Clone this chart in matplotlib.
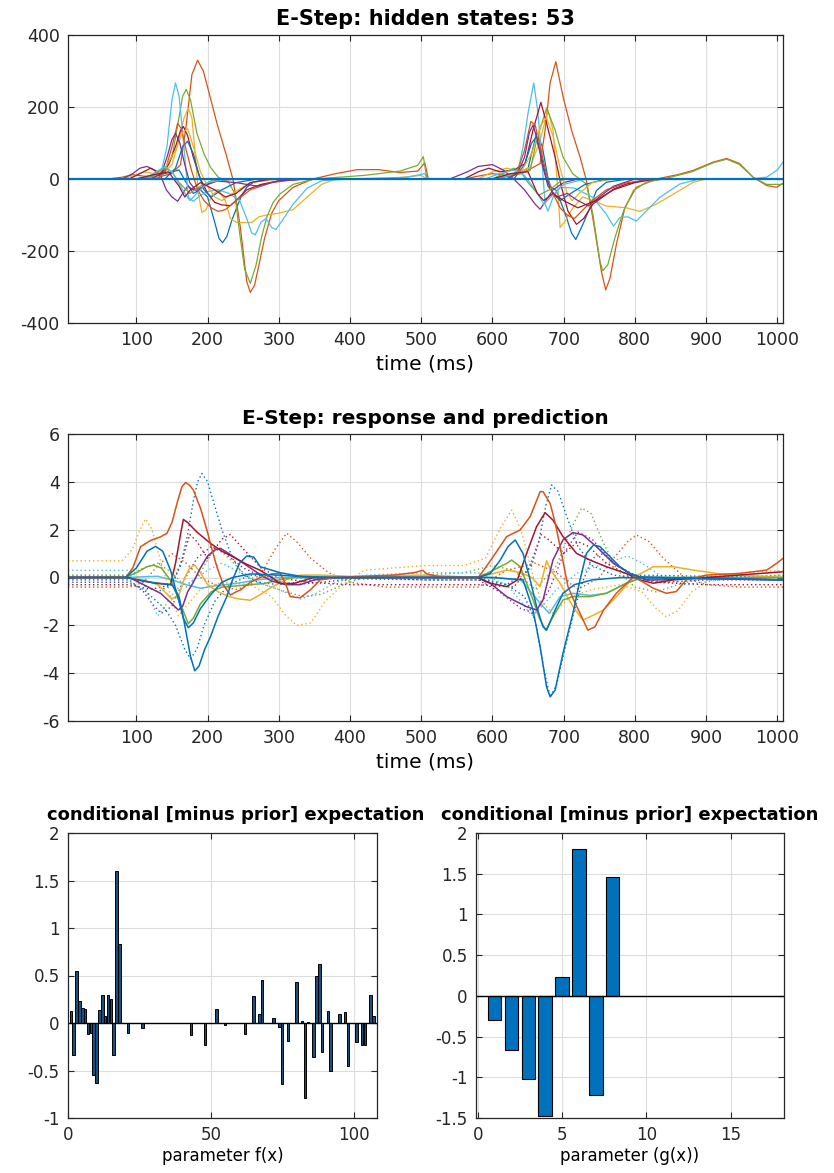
import matplotlib
matplotlib.use("Agg")
import matplotlib.pyplot as plt
from matplotlib.ticker import FuncFormatter

plt.rcParams['font.family'] = ['DejaVu Sans']
plt.rcParams['axes.unicode_minus'] = False

C_BLUE = '#0072BD'; C_ORANGE = '#D95319'; C_YELLOW = '#EDB120'; C_PURPLE = '#7E2F8E'
C_GREEN = '#77AC30'; C_CYAN = '#4DBEEE'; C_RED = '#A2142F'

# ---------------- hidden states (time ms, value) ----------------
hs_orange_a = [(4,0),(60,0),(80,5),(95,12),(110,8),(130,5),(150,15),(162,40),(170,150),(178,290),(186,330),(194,300),(202,240),(213,156),(227,61),(236,-4),(246,-135),(255,-285),(260,-315),(266,-295),(272,-240),(280,-165),(290,-95),(300,-60),(320,-23),(348,0),(380,15),(410,26),(440,26),(470,18),(495,22),(505,45),(510,0),
               (560,0),(580,8),(600,15),(620,10),(640,15),(655,30),(667,43),(674,136),(681,267),(689,326),(699,230),(711,136),(723,61),(732,-4),(744,-145),(753,-257),(759,-308),(765,-276),(774,-182),(786,-79),(802,-23),(830,0),(860,12),(882,24),(910,47),(929,57),(947,43),(966,5),(985,-18),(999,-23),(1008,-12)]
hs_green_a = [(4,0),(100,0),(120,8),(140,20),(150,60),(158,150),(165,230),(170,249),(176,220),(185,127),(195,70),(204,33),(215,5),(230,-10),(238,-40),(245,-150),(252,-250),(260,-290),(268,-240),(276,-160),(283,-107),(292,-65),(302,-41),(320,-15),(350,0),(420,10),(470,22),(495,38),(503,62),(508,0),
              (600,0),(620,10),(640,15),(653,24),(662,108),(676,197),(688,136),(699,61),(713,14),(732,-14),(741,-98),(751,-229),(755,-255),(762,-238),(772,-163),(784,-89),(798,-32),(816,-9),(840,0),(880,20),(910,45),(929,55),(947,40),(966,5),(985,-15),(1008,-15)]
hs_cyan_a = [(4,0),(110,0),(125,5),(135,20),(143,90),(150,220),(155,267),(160,230),(166,108),(173,-51),(180,-62),(190,-45),(200,-35),(215,-30),(230,-40),(245,-60),(255,-110),(262,-150),(267,-155),(275,-120),(282,-110),(290,-135),(296,-140),(305,-115),(320,-70),(340,-25),(360,-5),(400,0),(480,5),(505,15),(508,0),
             (600,0),(625,10),(636,24),(643,89),(650,183),(658,267),(664,183),(669,61),(674,-70),(678,-89),(685,-51),(695,-23),(715,-25),(741,-51),(760,-98),(770,-131),(779,-107),(790,-105),(802,-117),(816,-89),(835,-51),(863,-14),(891,0),(960,0),(985,5),(1000,25),(1008,47)]
hs_yellow_a = [(4,0),(80,0),(95,8),(110,20),(125,15),(140,20),(150,40),(160,110),(167,170),(173,197),(178,170),(183,60),(187,-40),(192,-93),(198,-85),(206,-45),(215,-30),(225,-60),(232,-110),(240,-120),(250,-121),(262,-121),(272,-105),(283,-100),(300,-95),(320,-85),(340,-50),(360,-15),(380,0),(450,0),(500,10),(508,0),
               (580,0),(600,20),(620,30),(640,20),(653,33),(667,108),(678,192),(685,136),(692,-32),(695,-135),(702,-117),(713,-80),(727,-50),(741,-60),(760,-75),(788,-80),(807,-90),(830,-70),(854,-42),(882,-9),(900,0),(1008,0)]
hs_blue_a = [(4,0),(100,0),(130,10),(150,20),(160,25),(170,-10),(180,-40),(190,-30),(200,-50),(210,-120),(216,-165),(221,-177),(227,-160),(234,-115),(241,-79),(248,-45),(255,-23),(265,-8),(290,0),(508,0),
             (600,0),(630,10),(650,30),(662,127),(670,90),(680,-20),(690,-32),(704,-107),(711,-150),(717,-168),(727,-126),(737,-79),(746,-32),(760,-9),(790,0),(1008,0)]
hs_red_a = [(4,0),(90,0),(110,20),(120,30),(135,15),(145,40),(155,90),(162,135),(166,146),(172,120),(180,60),(190,0),(200,-40),(210,-65),(220,-72),(232,-74),(240,-60),(255,-30),(275,-15),(300,-5),(340,0),(508,0),
            (560,0),(580,20),(595,30),(610,20),(630,25),(646,43),(657,136),(668,213),(676,155),(688,61),(697,-23),(706,-89),(718,-126),(728,-110),(741,-70),(770,-28),(788,-14),(820,0),(1008,0)]
hs_purple_a = [(4,0),(80,0),(95,15),(105,30),(115,35),(125,25),(135,5),(142,-30),(150,-50),(158,-62),(165,-40),(172,-20),(180,-30),(190,-25),(200,-15),(215,-5),(240,0),(508,0),
               (540,0),(565,20),(580,35),(600,40),(615,25),(630,0),(645,-30),(660,-70),(667,-84),(675,-60),(685,-30),(700,-10),(720,0),(1008,0)]
hs_purple_b = [(4,0),(120,0),(135,15),(143,60),(150,110),(155,127),(161,100),(168,40),(175,-10),(185,-35),(195,-20),(210,-5),(240,-10),(270,-20),(300,-5),(340,0),(508,0),
               (620,0),(635,15),(645,60),(652,130),(657,150),(663,110),(670,40),(678,-20),(690,-50),(705,-40),(720,-60),(735,-75),(750,-50),(770,-20),(800,0),(1008,0)]
hs_orange_b = [(4,0),(130,0),(140,20),(150,90),(158,155),(163,140),(170,80),(178,20),(186,-30),(195,-60),(205,-80),(215,-90),(225,-85),(240,-60),(260,-30),(290,-10),(330,0),(508,0),
               (620,0),(635,20),(645,80),(654,160),(660,150),(667,90),(675,20),(685,-40),(695,-80),(705,-100),(715,-110),(725,-90),(740,-60),(760,-30),(790,-10),(830,0),(1008,0)]
hs_blue_b = [(4,0),(140,0),(155,30),(165,90),(172,105),(180,70),(188,10),(195,-30),(205,-50),(220,-30),(240,-10),(270,0),(508,0),
             (630,0),(645,40),(655,100),(661,115),(668,70),(676,0),(685,-40),(695,-60),(710,-40),(730,-15),(760,0),(1008,0)]
hs_green_b = [(4,0),(110,0),(125,15),(140,30),(150,20),(160,-10),(175,-40),(190,-20),(210,0),(508,0),
              (600,0),(615,15),(630,30),(640,20),(650,-10),(665,-45),(680,-30),(700,0),(1008,0)]
hs_cyan_b = [(4,0),(100,0),(120,10),(140,35),(150,20),(165,-30),(175,-60),(185,-40),(200,-10),(230,0),(508,0),
             (590,0),(610,15),(630,25),(645,10),(660,-30),(672,-70),(682,-50),(700,-15),(730,0),(1008,0)]
hs_yellow_b = [(4,0),(120,0),(140,30),(155,80),(165,130),(172,140),(180,90),(190,20),(200,-20),(210,-50),(220,-60),(235,-40),(260,-10),(300,0),(508,0),
               (620,0),(640,20),(655,70),(668,150),(676,170),(685,120),(695,30),(705,-40),(712,-60),(722,-40),(740,-10),(770,0),(1008,0)]
hs_red_b = [(4,0),(100,0),(120,10),(145,20),(160,-20),(168,-50),(176,-30),(190,-10),(210,-30),(225,-50),(240,-40),(260,-10),(290,0),(508,0),
            (600,0),(625,15),(650,20),(663,-40),(672,-60),(685,-40),(700,-60),(720,-80),(745,-60),(770,-30),(800,-10),(830,0),(1008,0)]
hs_flat = [(4,0),(1008,0)]

# ---------------- response (solid) ----------------
resp_orange = [(4,0),(85,0),(95,0.4),(106,1.29),(120,1.55),(134,1.7),(143,1.85),(150,2.3),(158,3.2),(164,3.8),(169,3.97),(175,3.85),(180,3.66),(190,2.9),(199,1.99),(206,1.2),(213,0.45),(222,-0.3),(232,-0.73),(240,-0.6),(246,-0.52),(260,-0.2),(274,0),(290,0.15),(302,0.18),(310,-0.3),(316,-0.8),(330,-0.85),(345,-0.5),(358,-0.1),(380,0),(420,0.05),(460,0.1),(490,0.2),(502,0.3),(508,0.15),
               (530,0),(580,0),(590,0.4),(601,0.87),(620,1.71),(639,1.99),(653,2.55),(667,3.59),(671,3.59),(681,3.1),(688,2.3),(695,1.29),(706,-0.38),(715,-1.0),(723,-1.5),(734,-2.2),(744,-2.06),(756,-1.36),(774,-0.66),(798,0.03),(812,-0.2),(826,-0.45),(844,-0.66),(858,-0.59),(872,-0.1),(900,0.1),(947,0.17),(985,0.31),(999,0.59),(1008,0.8)]
resp_red = [(4,0),(85,0),(110,-0.15),(130,-0.25),(148,-0.3),(155,0.6),(162,1.8),(166,2.43),(172,2.3),(185,1.9),(204,1.43),(220,1.1),(236,0.86),(255,0.55),(274,0.3),(290,0),(302,-0.25),(321,-0.25),(349,0),(508,0),
            (578,0),(597,-0.24),(620,-0.38),(635,-0.1),(648,1.01),(662,2.13),(674,2.71),(685,2.4),(699,1.71),(718,1.01),(737,0.73),(760,0.45),(788,0.17),(807,-0.1),(826,-0.24),(854,-0.1),(900,0),(1008,0.24)]
resp_purple = [(4,0),(90,0),(110,-0.3),(134,-0.66),(150,-1.1),(159,-1.36),(165,-1.2),(172,-0.6),(180,-0.2),(190,0.4),(200,0.9),(210,1.15),(218,1.22),(230,1.0),(245,0.7),(260,0.4),(275,0.1),(290,-0.15),(310,-0.3),(330,-0.3),(350,-0.1),(380,0),(508,0),
               (580,0),(597,-0.24),(620,-0.8),(648,-1.22),(662,-1.36),(671,-0.94),(685,0.73),(699,1.57),(713,1.88),(727,1.78),(746,1.29),(770,0.59),(793,0.17),(816,-0.1),(840,-0.1),(880,0),(1008,-0.1)]
resp_green = [(4,0),(85,0),(100,0.2),(115,0.45),(124,0.52),(135,0.4),(150,-0.2),(163,-1.2),(173,-1.93),(180,-1.7),(190,-1.1),(205,-0.6),(220,-0.4),(240,-0.35),(260,-0.3),(280,-0.25),(300,-0.1),(320,0),(508,0),
              (578,0),(592,0.17),(620,0.59),(627,0.73),(639,0.45),(657,-0.94),(667,-1.78),(675,-2.2),(685,-1.64),(699,-0.94),(713,-0.8),(737,-0.8),(760,-0.66),(788,-0.24),(810,0),(1008,0)]
resp_yellow = [(4,0),(85,0),(110,-0.1),(130,-0.3),(150,-0.9),(160,-0.7),(168,0.0),(175,0.4),(182,0.52),(190,0.2),(200,-0.3),(215,-0.6),(230,-0.8),(245,-0.9),(260,-0.95),(275,-0.7),(290,-0.4),(310,-0.1),(330,0.1),(360,0.1),(400,0.05),(508,0.1),
               (580,0),(620,0.31),(640,0.2),(655,0),(667,-0.38),(672,0.2),(676,0.7),(682,0.3),(695,-0.24),(713,-1.22),(727,-1.78),(742,-1.57),(756,-1.36),(774,-0.8),(798,0),(826,0.45),(854,0.45),(882,0.31),(920,0.15),(1008,0)]
resp_cyan = [(4,0),(85,0),(130,0.05),(150,-0.1),(170,-0.3),(190,-0.45),(210,-0.35),(240,-0.25),(270,-0.1),(300,0),(508,0),
             (600,0),(640,-0.1),(667,-1.08),(680,-1.5),(695,-0.8),(713,-0.66),(737,-0.75),(760,-0.66),(788,-0.24),(810,0),(1008,0)]
resp_blue_a = [(4,0),(85,0),(100,0.4),(115,1.1),(127,1.3),(137,1.1),(148,0.3),(158,-0.8),(166,-1.7),(173,-2.1),(180,-1.9),(190,-1.3),(205,-0.7),(220,-0.2),(235,0),(260,0.15),(300,0.1),(350,0),(508,0),
               (580,0),(597,0.17),(611,0.73),(622,1.3),(632,1.57),(643,1.0),(653,-0.1),(662,-1.22),(671,-2.06),(676,-2.2),(688,-1.36),(699,-0.66),(715,-0.3),(740,-0.1),(780,0),(1008,-0.1)]
resp_blue_b = [(4,0),(85,0),(120,-0.2),(150,-0.3),(160,-0.8),(168,-2.0),(176,-3.3),(182,-3.9),(188,-3.7),(196,-3.0),(204,-2.48),(215,-1.6),(227,-0.8),(235,-0.1),(245,0.6),(255,0.9),(265,0.85),(274,0.45),(302,0.2),(330,0.05),(380,0),(508,0),
               (600,0),(643,-0.1),(657,-1.36),(667,-2.9),(676,-4.57),(681,-4.99),(688,-4.71),(699,-3.17),(713,-1.5),(723,-0.1),(732,1.01),(742,1.36),(751,1.29),(765,0.87),(779,0.45),(793,0.17),(807,0.03),(900,-0.05),(1008,-0.1)]

# ---------------- prediction (dotted) ----------------
pred_blue_a = [(4,0.05),(90,0.05),(110,-0.3),(130,-0.6),(150,-0.3),(162,0.5),(172,1.8),(180,3.2),(186,4.0),(192,4.35),(200,4.0),(210,3.0),(220,2.0),(235,0.8),(250,0.1),(270,-0.2),(300,-0.3),(350,-0.1),(400,0.0),(508,0.0),
               (580,0),(620,-0.3),(650,0.3),(665,1.5),(675,3.0),(683,3.87),(692,3.6),(705,2.5),(720,1.3),(740,0.5),(770,0.1),(800,0),(1008,0)]
pred_blue_b = [(4,-0.2),(90,-0.2),(110,-0.5),(125,-0.9),(140,-1.3),(155,-2.0),(168,-3.0),(176,-3.4),(185,-3.0),(195,-2.0),(210,-1.0),(230,-0.3),(260,0.1),(300,0.0),(508,-0.1),
               (580,-0.1),(620,-0.3),(645,-0.8),(660,-1.8),(672,-3.8),(681,-5.0),(690,-4.5),(700,-3.2),(713,-1.6),(725,-0.3),(740,0.8),(755,1.0),(775,0.5),(800,0.1),(1008,0)]
pred_yellow = [(4,0.7),(80,0.7),(95,1.2),(105,2.0),(113,2.45),(122,2.0),(133,0.8),(141,0),(150,-1.0),(159,-1.6),(170,-1.2),(190,-0.5),(220,-0.2),(260,-0.3),(290,-0.8),(310,-1.6),(325,-2.0),(345,-1.9),(365,-1.0),(390,-0.3),(420,0.3),(460,0.4),(508,0.5),
               (560,0.5),(590,0.8),(610,2.0),(627,2.82),(640,2.0),(655,0.3),(668,-1.0),(685,-1.5),(710,-0.8),(740,-0.5),(780,-0.3),(810,-0.6),(830,-1.3),(844,-1.64),(860,-1.4),(880,-0.6),(910,0),(950,0.2),(1008,0.3)]
pred_orange = [(4,-0.4),(90,-0.4),(110,-0.2),(130,0.5),(150,1.0),(170,0.6),(190,0.0),(210,-0.3),(240,-0.5),(260,-0.3),(280,0.4),(295,1.2),(311,1.85),(325,1.5),(345,0.8),(370,0.2),(400,-0.2),(450,-0.4),(508,-0.4),
               (580,-0.4),(620,0.3),(660,0.6),(690,0.2),(720,-0.5),(750,0.0),(770,0.8),(790,1.5),(802,1.78),(820,1.5),(840,0.8),(870,0.0),(900,-0.3),(950,-0.4),(1008,-0.4)]
pred_green = [(4,0.1),(90,0.1),(110,0.4),(130,0.6),(150,0.2),(170,-0.4),(190,0.2),(205,1.0),(215,1.2),(230,0.8),(250,0.2),(280,-0.3),(310,-0.6),(335,-0.8),(360,-0.7),(390,-0.3),(420,0.0),(508,0.1),
              (560,0.2),(600,0.5),(630,0.3),(660,-0.5),(690,0.5),(710,2.0),(725,2.9),(738,2.7),(755,1.5),(775,0.3),(800,-0.4),(830,-0.6),(860,-0.3),(900,0),(1008,0.1)]
pred_purple = [(4,-0.1),(90,-0.1),(110,-0.6),(125,-1.2),(135,-1.5),(150,-1.2),(165,-0.2),(185,0.8),(205,1.3),(225,1.0),(250,0.4),(280,0.0),(320,-0.3),(360,-0.2),(420,0.0),(508,-0.1),
               (580,-0.1),(610,-0.6),(640,-1.3),(660,-1.5),(680,-0.5),(700,1.0),(720,1.9),(740,1.6),(770,0.6),(800,0.0),(840,-0.2),(900,-0.1),(1008,-0.1)]
pred_red = [(4,-0.3),(90,-0.3),(120,-0.5),(150,-0.3),(165,0.8),(175,1.8),(185,1.5),(200,0.8),(220,1.6),(232,1.8),(250,1.2),(275,0.4),(300,0.0),(340,-0.2),(400,-0.3),(508,-0.3),
            (580,-0.3),(630,-0.4),(655,0.5),(668,1.8),(678,1.6),(700,1.0),(720,1.5),(735,1.3),(760,0.6),(790,0.1),(830,-0.2),(900,-0.3),(1008,-0.3)]
pred_cyan = [(4,0.3),(90,0.3),(110,-0.2),(120,-1.0),(130,-1.6),(140,-1.2),(155,-0.5),(175,-0.2),(200,0.3),(220,0.6),(240,0.3),(270,-0.2),(300,-0.5),(330,-0.9),(350,-0.7),(380,-0.2),(420,0.1),(508,0.2),
             (580,0.2),(620,-0.3),(640,-1.0),(655,-1.6),(670,-1.2),(690,-0.5),(720,0.2),(760,0.6),(790,0.9),(810,0.6),(840,0.0),(870,-0.3),(920,-0.1),(1008,0.1)]

# ---------------- parameter estimates ----------------
param_f = [0.13, -0.34, 0.55, 0.23, 0.16, 0.15, -0.12, -0.10, -0.55, -0.63, 0.14, 0.30,
           0.07, 0.30, 0.25, -0.34, 1.60, 0.83, 0, 0, -0.11, 0, 0, 0,
           0, -0.05, 0, 0, 0, 0, 0, 0, 0, 0, 0, 0,
           0, 0, 0, 0, 0, 0, -0.13, 0, 0, 0, 0, -0.23,
           0, 0, 0, 0.15, 0, 0, -0.02, 0, 0, 0, 0, 0,
           0, -0.12, 0, 0, 0.28, 0, 0.09, 0.45, 0, 0, 0, 0.05,
           0, -0.04, -0.64, 0, -0.19, 0, 0, 0.43, 0, 0.02, -0.79, 0.01,
           0, -0.36, 0.50, 0.62, -0.30, 0, 0.13, -0.51, 0, 0, 0.10, 0,
           0.12, -0.45, 0, 0, -0.20, 0, -0.23, -0.23, 0, 0.29, 0.07, 0]
param_g = [-0.30, -0.66, -1.02, -1.47, 0.23, 1.80, -1.22, 1.46]

top_title = 'E-Step: hidden states: 53'
mid_title = 'E-Step: response and prediction'
bar_title = 'conditional [minus prior] expectation'

hidden_series = [(C_BLUE, hs_blue_a), (C_ORANGE, hs_orange_a), (C_YELLOW, hs_yellow_a), (C_PURPLE, hs_purple_a),
                 (C_GREEN, hs_green_a), (C_CYAN, hs_cyan_a), (C_RED, hs_red_a), (C_BLUE, hs_blue_b),
                 (C_ORANGE, hs_orange_b), (C_YELLOW, hs_yellow_b), (C_PURPLE, hs_purple_b), (C_GREEN, hs_green_b),
                 (C_CYAN, hs_cyan_b), (C_RED, hs_red_b)]
pred_series = [(C_ORANGE, pred_orange), (C_YELLOW, pred_yellow), (C_PURPLE, pred_purple), (C_GREEN, pred_green),
               (C_CYAN, pred_cyan), (C_RED, pred_red), (C_BLUE, pred_blue_a), (C_BLUE, pred_blue_b)]
resp_series = [(C_CYAN, resp_cyan), (C_YELLOW, resp_yellow), (C_GREEN, resp_green), (C_PURPLE, resp_purple),
               (C_RED, resp_red), (C_ORANGE, resp_orange), (C_BLUE, resp_blue_a), (C_BLUE, resp_blue_b)]

# ---------------- figure ----------------
W, H = 834, 1173
fig = plt.figure(figsize=(W / 100, H / 100), dpi=100)

def px_axes(l, t, r, b):
    return fig.add_axes([l / W, 1 - b / H, (r - l) / W, (b - t) / H])

fmt = FuncFormatter(lambda v, p: '%g' % v)

def style(ax, fs=12.5):
    ax.grid(True, color='#dcdcdc', linewidth=0.8)
    ax.set_axisbelow(True)
    ax.tick_params(direction='in', top=True, right=True, length=4, width=0.8,
                   labelsize=fs, colors='#262626', pad=6)
    for s in ax.spines.values():
        s.set_color('#262626'); s.set_linewidth(0.9)
    ax.yaxis.set_major_formatter(fmt)
    ax.xaxis.set_major_formatter(fmt)

def unzip(pts):
    return [p[0] for p in pts], [p[1] for p in pts]

# top panel
ax1 = px_axes(68, 35, 783, 323)
for c, d in hidden_series:
    x, y = unzip(d)
    ax1.plot(x, y, color=c, lw=0.9)
x, y = unzip(hs_flat)
ax1.plot(x, y, color=C_BLUE, lw=1.6)
ax1.set_xlim(4, 1008); ax1.set_ylim(-400, 400)
ax1.set_xticks(range(100, 1001, 100)); ax1.set_yticks([-400, -200, 0, 200, 400])
style(ax1)
ax1.set_title(top_title, fontsize=15, fontweight='bold', pad=7)
ax1.set_xlabel('time (ms)', fontsize=14.5, labelpad=4)

# middle panel
ax2 = px_axes(68, 434, 783, 721)
for c, d in pred_series:
    x, y = unzip(d)
    ax2.plot(x, y, color=c, lw=1.0, linestyle=(0, (1, 2)))
for c, d in resp_series:
    x, y = unzip(d)
    ax2.plot(x, y, color=c, lw=1.1)
ax2.set_xlim(4, 1008); ax2.set_ylim(-6, 6)
ax2.set_xticks(range(100, 1001, 100)); ax2.set_yticks(range(-6, 7, 2))
style(ax2)
ax2.set_title(mid_title, fontsize=14.5, fontweight='bold', pad=7)
ax2.set_xlabel('time (ms)', fontsize=14.5, labelpad=4)

# bottom left
ax3 = px_axes(68, 833, 377, 1118)
ax3.bar(range(1, len(param_f) + 1), param_f, width=0.9, color='#1a4f82', edgecolor='black', linewidth=0.7)
ax3.axhline(0, color='black', lw=1.0)
ax3.set_xlim(0, 108.2); ax3.set_ylim(-1, 2)
ax3.set_xticks([0, 50, 100]); ax3.set_yticks([-1, -0.5, 0, 0.5, 1, 1.5, 2])
style(ax3, fs=12)
ax3.set_title(bar_title, fontsize=13, fontweight='bold', pad=9, x=0.544)
ax3.set_xlabel('parameter f(x)', fontsize=12, labelpad=2)

# bottom right
ax4 = px_axes(476, 833, 784, 1118)
ax4.bar(range(1, len(param_g) + 1), param_g, width=0.8, color=C_BLUE, edgecolor='black', linewidth=0.8)
ax4.axhline(0, color='black', lw=1.0)
ax4.set_xlim(-0.1, 18.15); ax4.set_ylim(-1.5, 2)
ax4.set_xticks([0, 5, 10, 15]); ax4.set_yticks([-1.5, -1, -0.5, 0, 0.5, 1, 1.5, 2])
style(ax4, fs=12)
ax4.set_title(bar_title, fontsize=13, fontweight='bold', pad=9)
ax4.set_xlabel('parameter (g(x))', fontsize=12, labelpad=2)

fig.savefig('out.png', dpi=100)
